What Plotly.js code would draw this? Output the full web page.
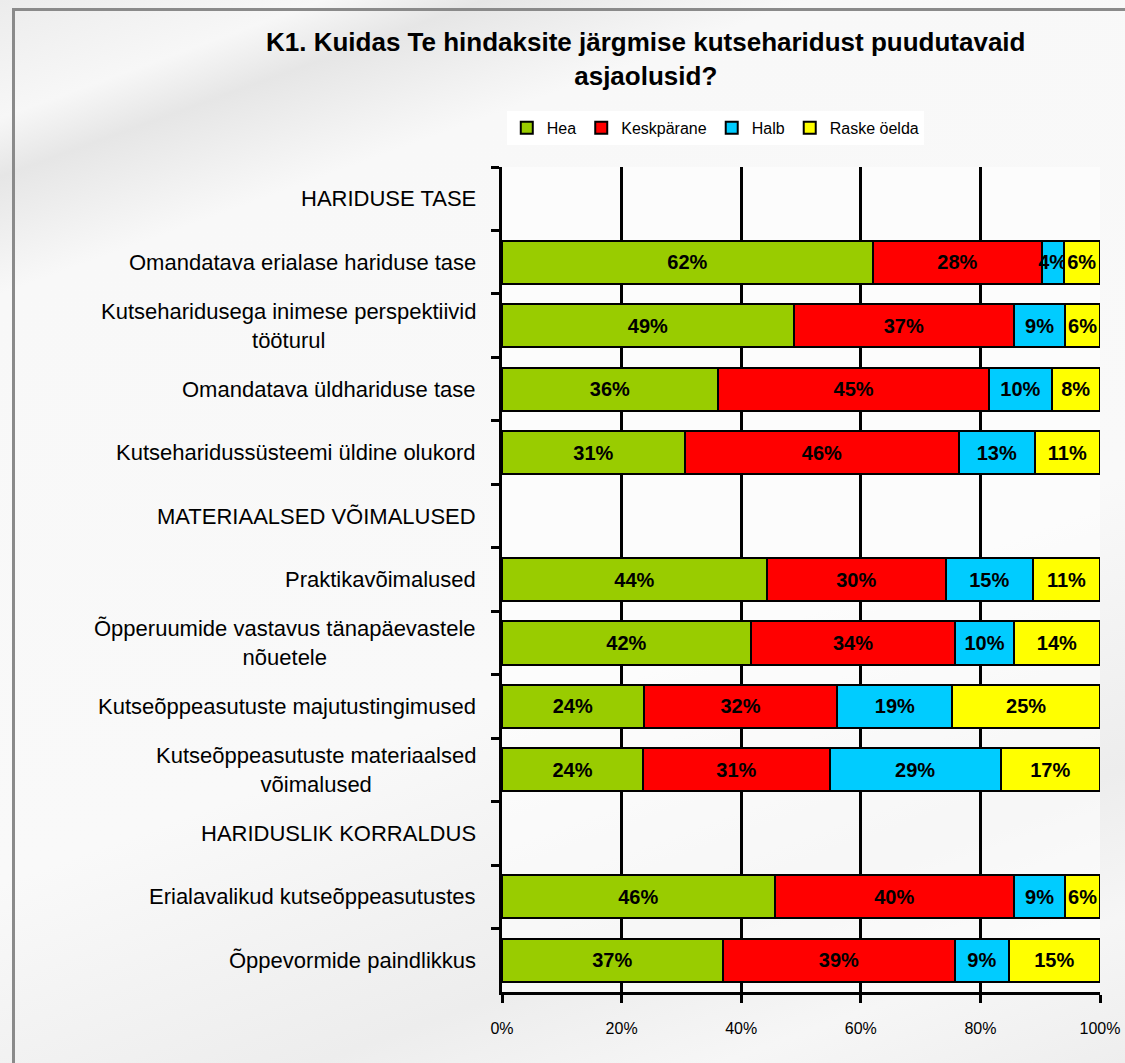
<!DOCTYPE html>
<html>
<head>
<meta charset="utf-8">
<script src="https://cdn.plot.ly/plotly-3.0.1.min.js"></script>
<style>
  html, body { margin:0; padding:0; }
  body {
    width:1125px; height:1063px; overflow:hidden;
    background: linear-gradient(160deg, #ececec 0%, #f7f7f7 8%, #e6e6e6 12%, #f8f8f8 20%, #f9f9f9 60%, #ededed 80%, #f6f6f6 90%, #eeeeee 100%);
    position:relative;
  }
  #frame { position:absolute; left:12px; top:8px; width:1200px; height:1200px;
    border-left:3px solid #8a8a8a; border-top:3px solid #8a8a8a; }
  #chart { position:absolute; left:0; top:0; width:1125px; height:1063px; }
</style>
</head>
<body>
<div id="frame"></div>
<div id="chart"></div>
<script>
// Categories (top to bottom); header rows have no values
const categories = [
  "HARIDUSE TASE",
  "Omandatava erialase hariduse tase",
  "Kutseharidusega inimese perspektiivid<br>tööturul",
  "Omandatava üldhariduse tase",
  "Kutseharidussüsteemi üldine olukord",
  "MATERIAALSED VÕIMALUSED",
  "Praktikavõimalused",
  "Õpperuumide vastavus tänapäevastele<br>nõuetele",
  "Kutseõppeasutuste majutustingimused",
  "Kutseõppeasutuste materiaalsed<br>võimalused",
  "HARIDUSLIK KORRALDUS",
  "Erialavalikud kutseõppeasutustes",
  "Õppevormide paindlikkus"
];
const hea        = [null, 62.0, 48.8, 36.1, 30.6, null, 44.3, 41.6, 23.7, 23.6, null, 45.6, 36.9];
const keskparane = [null, 28.3, 36.8, 45.4, 45.8, null, 29.9, 34.2, 32.4, 31.2, null, 40.0, 38.9];
const halb       = [null,  3.6,  8.6, 10.4, 12.7, null, 14.6,  9.8, 19.2, 28.6, null,  8.6,  8.9];
const raske      = [null,  6.1,  5.8,  8.1, 10.9, null, 11.2, 14.4, 24.7, 16.6, null,  5.8, 15.3];
const seriesNames = ["Hea", "Keskpärane", "Halb", "Raske öelda"];
const xTickVals = [0, 20, 40, 60, 80, 100];
const xTickText = ["0%", "20%", "40%", "60%", "80%", "100%"];

const colors = ["#99CC00", "#FF0000", "#00CCFF", "#FFFF00"];
const FONT = "Liberation Sans, Arial, sans-serif";
const allSeries = [hea, keskparane, halb, raske];

const traces = allSeries.map((vals, i) => ({
  type: "bar",
  orientation: "h",
  name: seriesNames[i],
  y: categories,
  x: vals,
  width: 0.68,
  marker: { color: colors[i], line: { color: "#000", width: 2 } },
  texttemplate: "%{x:.0f}%",
  textposition: "inside",
  insidetextanchor: "middle",
  textangle: 0,
  constraintext: "none",
  textfont: { family: FONT, size: 20, color: "#000", weight: "bold" },
  insidetextfont: { family: FONT, size: 20, color: "#000", weight: "bold" },
  hoverinfo: "skip",
  cliponaxis: false
}));

const annotations = categories.map(c => ({
  xref: "paper", yref: "y", x: 0, y: c,
  xanchor: "right", yanchor: "middle", xshift: -24,
  text: c, align: "center", showarrow: false,
  font: { family: FONT, size: 22, color: "#000" }
}));

const layout = {
  width: 1125, height: 1063,
  paper_bgcolor: "rgba(0,0,0,0)",
  plot_bgcolor: "rgba(255,255,255,0.55)",
  margin: { l: 502, r: 25, t: 167, b: 71 },
  barmode: "stack",
  bargap: 0.32,
  showlegend: true,
  title: {
    text: "<b>K1. Kuidas Te hindaksite järgmise kutseharidust puudutavaid<br>asjaolusid?</b>",
    font: { family: FONT, size: 26, color: "#000" },
    xref: "container", x: 0.574, xanchor: "center",
    yref: "container", y: 0.952, yanchor: "top"
  },
  legend: {
    orientation: "h",
    x: 0.008, xanchor: "left",
    y: 1.068, yanchor: "top",
    bgcolor: "#ffffff",
    font: { family: FONT, size: 16, color: "#000" },
    traceorder: "normal",
    itemwidth: 30
  },
  xaxis: {
    range: [0, 100.0001],
    tickvals: xTickVals, ticktext: xTickText,
    showgrid: true, gridcolor: "#000", gridwidth: 3,
    showline: true, linecolor: "#000", linewidth: 3,
    ticks: "outside", ticklen: 8, tickwidth: 3, tickcolor: "#000",
    tickfont: { family: FONT, size: 16, color: "#000" },
    ticklabelstandoff: 12,
    zeroline: false, fixedrange: true
  },
  yaxis: {
    type: "category",
    categoryorder: "array", categoryarray: categories,
    autorange: "reversed",
    showticklabels: false,
    tickson: "boundaries",
    ticks: "outside", ticklen: 8, tickwidth: 3, tickcolor: "#000",
    showline: true, linecolor: "#000", linewidth: 3,
    showgrid: false, zeroline: false, fixedrange: true
  },
  annotations: annotations
};

Plotly.newPlot("chart", traces, layout, { displayModeBar: false, staticPlot: true });
</script>
</body>
</html>
